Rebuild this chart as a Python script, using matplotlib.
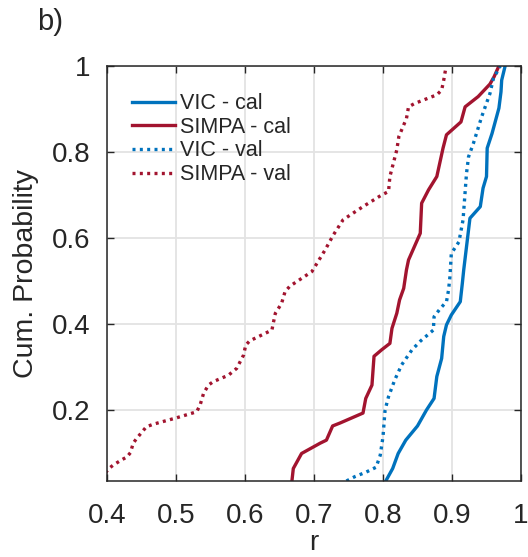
import matplotlib
matplotlib.use("Agg")
import matplotlib.pyplot as plt

plt.rcParams['font.family'] = ['Liberation Sans', 'DejaVu Sans']

# Curves (x = r, y = cumulative probability)
vic_cal_r = [0.804, 0.814, 0.822, 0.833, 0.850, 0.863, 0.874, 0.878, 0.885, 0.888,
             0.892, 0.899, 0.912, 0.915, 0.917, 0.926, 0.941, 0.945, 0.950, 0.951,
             0.958, 0.968, 0.971, 0.972, 0.977]
vic_cal_p = [0.035, 0.064, 0.099, 0.130, 0.163, 0.200, 0.227, 0.278, 0.320, 0.371,
             0.398, 0.421, 0.452, 0.495, 0.526, 0.646, 0.673, 0.716, 0.743, 0.809,
             0.843, 0.902, 0.940, 0.967, 1.000]

simpa_cal_r = [0.668, 0.670, 0.682, 0.709, 0.718, 0.727, 0.738, 0.771, 0.775, 0.784,
               0.787, 0.798, 0.810, 0.813, 0.820, 0.824, 0.830, 0.834, 0.837, 0.854,
               0.856, 0.866, 0.878, 0.887, 0.892, 0.913, 0.919, 0.938, 0.955, 0.961,
               0.968]
simpa_cal_p = [0.035, 0.064, 0.099, 0.123, 0.130, 0.163, 0.170, 0.193, 0.227, 0.258,
               0.325, 0.340, 0.355, 0.390, 0.425, 0.456, 0.483, 0.526, 0.549, 0.611,
               0.681, 0.712, 0.743, 0.809, 0.840, 0.870, 0.905, 0.929, 0.958, 0.975,
               1.000]

vic_val_r = [0.747, 0.759, 0.776, 0.790, 0.796, 0.800, 0.803, 0.808, 0.817, 0.827,
             0.842, 0.854, 0.873, 0.874, 0.883, 0.892, 0.895, 0.897, 0.899, 0.910,
             0.916, 0.921, 0.924, 0.931, 0.943, 0.955, 0.960, 0.970]
vic_val_p = [0.035, 0.045, 0.056, 0.067, 0.095, 0.138, 0.200, 0.231, 0.270, 0.305,
             0.340, 0.360, 0.386, 0.417, 0.436, 0.452, 0.479, 0.510, 0.564, 0.591,
             0.642, 0.750, 0.789, 0.820, 0.882, 0.936, 0.971, 1.000]

simpa_val_r = [0.398, 0.402, 0.409, 0.421, 0.429, 0.434, 0.438, 0.443, 0.457, 0.467,
               0.501, 0.530, 0.535, 0.540, 0.547, 0.554, 0.576, 0.588, 0.598, 0.601,
               0.607, 0.639, 0.641, 0.644, 0.653, 0.658, 0.665, 0.697, 0.716, 0.728,
               0.742, 0.752, 0.771, 0.798, 0.808, 0.810, 0.815, 0.820, 0.823, 0.829,
               0.834, 0.837, 0.846, 0.878, 0.885, 0.888, 0.891]
simpa_val_p = [0.054, 0.063, 0.072, 0.084, 0.091, 0.101, 0.123, 0.134, 0.161, 0.167,
               0.182, 0.196, 0.212, 0.239, 0.258, 0.266, 0.281, 0.297, 0.328, 0.351,
               0.361, 0.386, 0.402, 0.425, 0.448, 0.475, 0.488, 0.522, 0.572, 0.607,
               0.642, 0.653, 0.673, 0.700, 0.708, 0.743, 0.774, 0.805, 0.836, 0.859,
               0.878, 0.905, 0.913, 0.933, 0.944, 0.967, 0.995]

labels = ['VIC - cal', 'SIMPA - cal', 'VIC - val', 'SIMPA - val']
x_ticks = [0.4, 0.5, 0.6, 0.7, 0.8, 0.9, 1.0]
x_tick_labels = ['0.4', '0.5', '0.6', '0.7', '0.8', '0.9', '1']
y_ticks = [0.2, 0.4, 0.6, 0.8, 1.0]
y_tick_labels = ['0.2', '0.4', '0.6', '0.8', '1']

blue = '#0072BD'
red = '#A2142F'
txt = '#262626'

fig = plt.figure(figsize=(5.28, 5.57), dpi=100)
ax = fig.add_axes([107/528, 1-481/557, 414/528, 415/557])

lw = 2.4
dot = (0, (0.9, 1.3))
ax.plot(vic_cal_r, vic_cal_p, color=blue, lw=lw, label=labels[0])
ax.plot(simpa_cal_r, simpa_cal_p, color=red, lw=lw, label=labels[1])
ax.plot(vic_val_r, vic_val_p, color=blue, lw=lw, ls=dot, label=labels[2])
ax.plot(simpa_val_r, simpa_val_p, color=red, lw=lw, ls=dot, label=labels[3])

ax.set_xlim(0.4, 1.0)
ax.set_ylim(0.035, 1.0)
ax.set_xticks(x_ticks)
ax.set_xticklabels(x_tick_labels)
ax.set_yticks(y_ticks)
ax.set_yticklabels(y_tick_labels)
ax.grid(True, color='#e3e3e3', lw=1.3)
ax.set_axisbelow(True)
ax.tick_params(direction='in', length=5, width=1, top=True, right=True,
               labelsize=20, colors=txt)
ax.tick_params(axis='x', pad=16)
ax.tick_params(axis='y', pad=12)
for s in ax.spines.values():
    s.set_color(txt)
    s.set_linewidth(1.1)

ax.set_xlabel('r', fontsize=20, color=txt, labelpad=0.5)
ax.set_ylabel('Cum. Probability', fontsize=20.5, color=txt, labelpad=9)

leg = ax.legend(loc='upper left', bbox_to_anchor=(0.04, 0.955), frameon=False,
                fontsize=15.5, handlelength=2.0, handletextpad=0.2,
                labelspacing=0.12, borderaxespad=0)
for t in leg.get_texts():
    t.set_color(txt)

fig.text(37/528, 1-22/557, 'b)', fontsize=21, color=txt, va='center', ha='left')

fig.savefig('out.png', dpi=100)
